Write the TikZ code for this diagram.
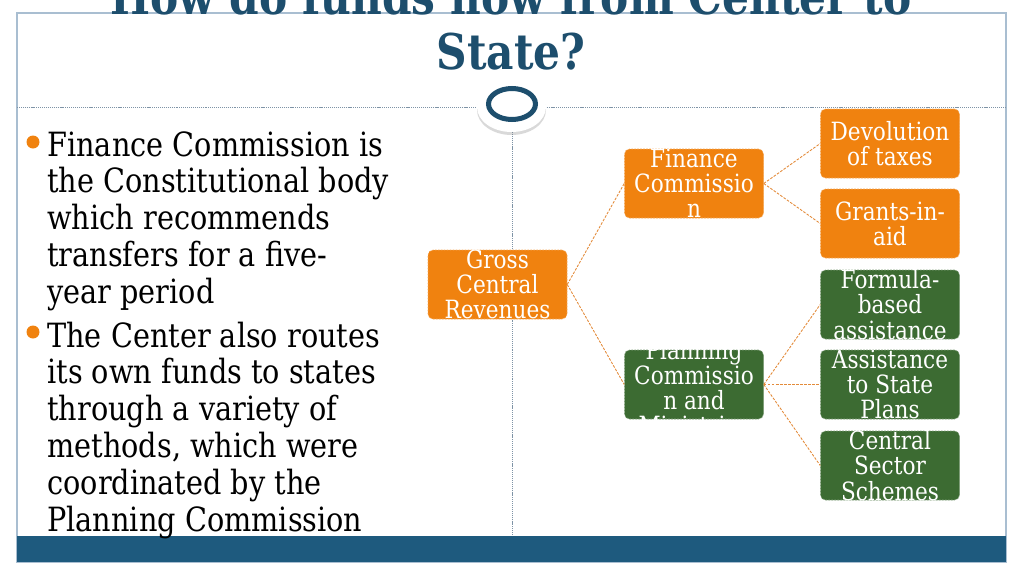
\documentclass[tikz,border=0pt]{standalone}
\usepackage{fontspec}
\setmainfont{DejaVu Serif}[FakeStretch=0.86]
\usetikzlibrary{positioning,shadows}
\definecolor{titleblue}{HTML}{1D4E6D}
\definecolor{barblue}{HTML}{1E5A7E}
\definecolor{framegray}{HTML}{A9BED1}
\definecolor{dotgray}{HTML}{7E93A6}
\definecolor{boxorange}{HTML}{F0820F}
\definecolor{boxgreen}{HTML}{3C6B32}
\definecolor{linkorange}{HTML}{E38B3A}
\newcommand{\bulletlines}[1]{\begin{tabular}[t]{@{}l@{}}#1\end{tabular}}

\begin{document}
\begin{tikzpicture}[x=0.2mm,y=-0.2mm,every node/.style={inner sep=0pt},
  fund/.style={rectangle,rounded corners=1mm,minimum width=27.8mm,minimum height=13.8mm,line width=0.3pt,dash pattern=on 1pt off 0.7pt},
  orangebox/.style={fund,fill=boxorange,draw=boxorange!70!white},
  greenbox/.style={fund,fill=boxgreen,draw=boxgreen!65!white},
  boxtext/.style={text=white,align=center,font=\fontsize{14.3}{14.3}\selectfont},
  link/.style={draw=linkorange,line width=0.5pt,dash pattern=on 1.5pt off 0.8pt},
  guide/.style={dotgray,line width=0.2mm,dash pattern=on 0.6pt off 0.5pt},
  bodytext/.style={anchor=base west,font=\fontsize{19}{21}\selectfont},
  bulletdot/.style={circle,fill=boxorange,minimum size=2.6mm},
  titletext/.style={anchor=base,text=titleblue,font=\fontsize{28}{30}\selectfont\bfseries}]
\useasboundingbox (0,0) rectangle (1024,575);
% slide frame
\draw[framegray,line width=0.3mm] (17,13) rectangle (1006,562);
\fill[barblue] (17,536) rectangle (1006,562);
\draw[guide] (17,107) -- (1006,107);
\draw[guide] (512,132) -- (512,536);
\fill[white,drop shadow={opacity=0.3,shadow xshift=0pt,shadow yshift=-0.6mm}] (511.5,107) ellipse [x radius=6.9mm,y radius=5mm];
\draw[titleblue,line width=1mm] (512,104) ellipse [x radius=4.7mm,y radius=3.1mm];
\node[titletext] (title1) at (511,14) {How do funds flow from Center to};
\node[titletext] (title2) at (511,69) {State?};
% bullets
\node[bulletdot] (b1) at (33,142) {};
\node[bodytext] (fc) at (47,156) {\bulletlines{Finance Commission is\\the Constitutional body\\which recommends\\transfers for a five-\\year period}};
\node[bulletdot] (b2) at (33,332) {};
\node[bodytext] (pc) at (47,347) {\bulletlines{The Center also routes\\its own funds to states\\through a variety of\\methods, which were\\coordinated by the\\Planning Commission}};
% tree
\node[orangebox,label={[boxtext]center:{Gross\\Central\\Revenues}}] (gross) at (497.5,284.5) {};
\node[orangebox,label={[boxtext]center:{Finance\\Commissio\\n}}] (fin) at (694,183.5) {};
\node[greenbox,label={[boxtext,yshift=-0.6mm]center:{Planning\\Commissio\\n and\\Ministries}}] (plan) at (694,384.5) {};
\node[orangebox,label={[boxtext]center:{Devolution\\of taxes}}] (devol) at (890,143.5) {};
\node[orangebox,label={[boxtext]center:{Grants-in-\\aid}}] (grants) at (890,223.5) {};
\node[greenbox,label={[boxtext]center:{Formula-\\based\\assistance}}] (formula) at (890,304.5) {};
\node[greenbox,label={[boxtext]center:{Assistance\\to State\\Plans}}] (assist) at (890,384.5) {};
\node[greenbox,label={[boxtext]center:{Central\\Sector\\Schemes}}] (central) at (890,465.5) {};
\path[link] (gross.east) edge (fin.west) edge (plan.west);
\path[link] (fin.east) edge (devol.west) edge (grants.west);
\path[link] (plan.east) edge (formula.west) edge (assist.west) edge (central.west);
\end{tikzpicture}
\end{document}
